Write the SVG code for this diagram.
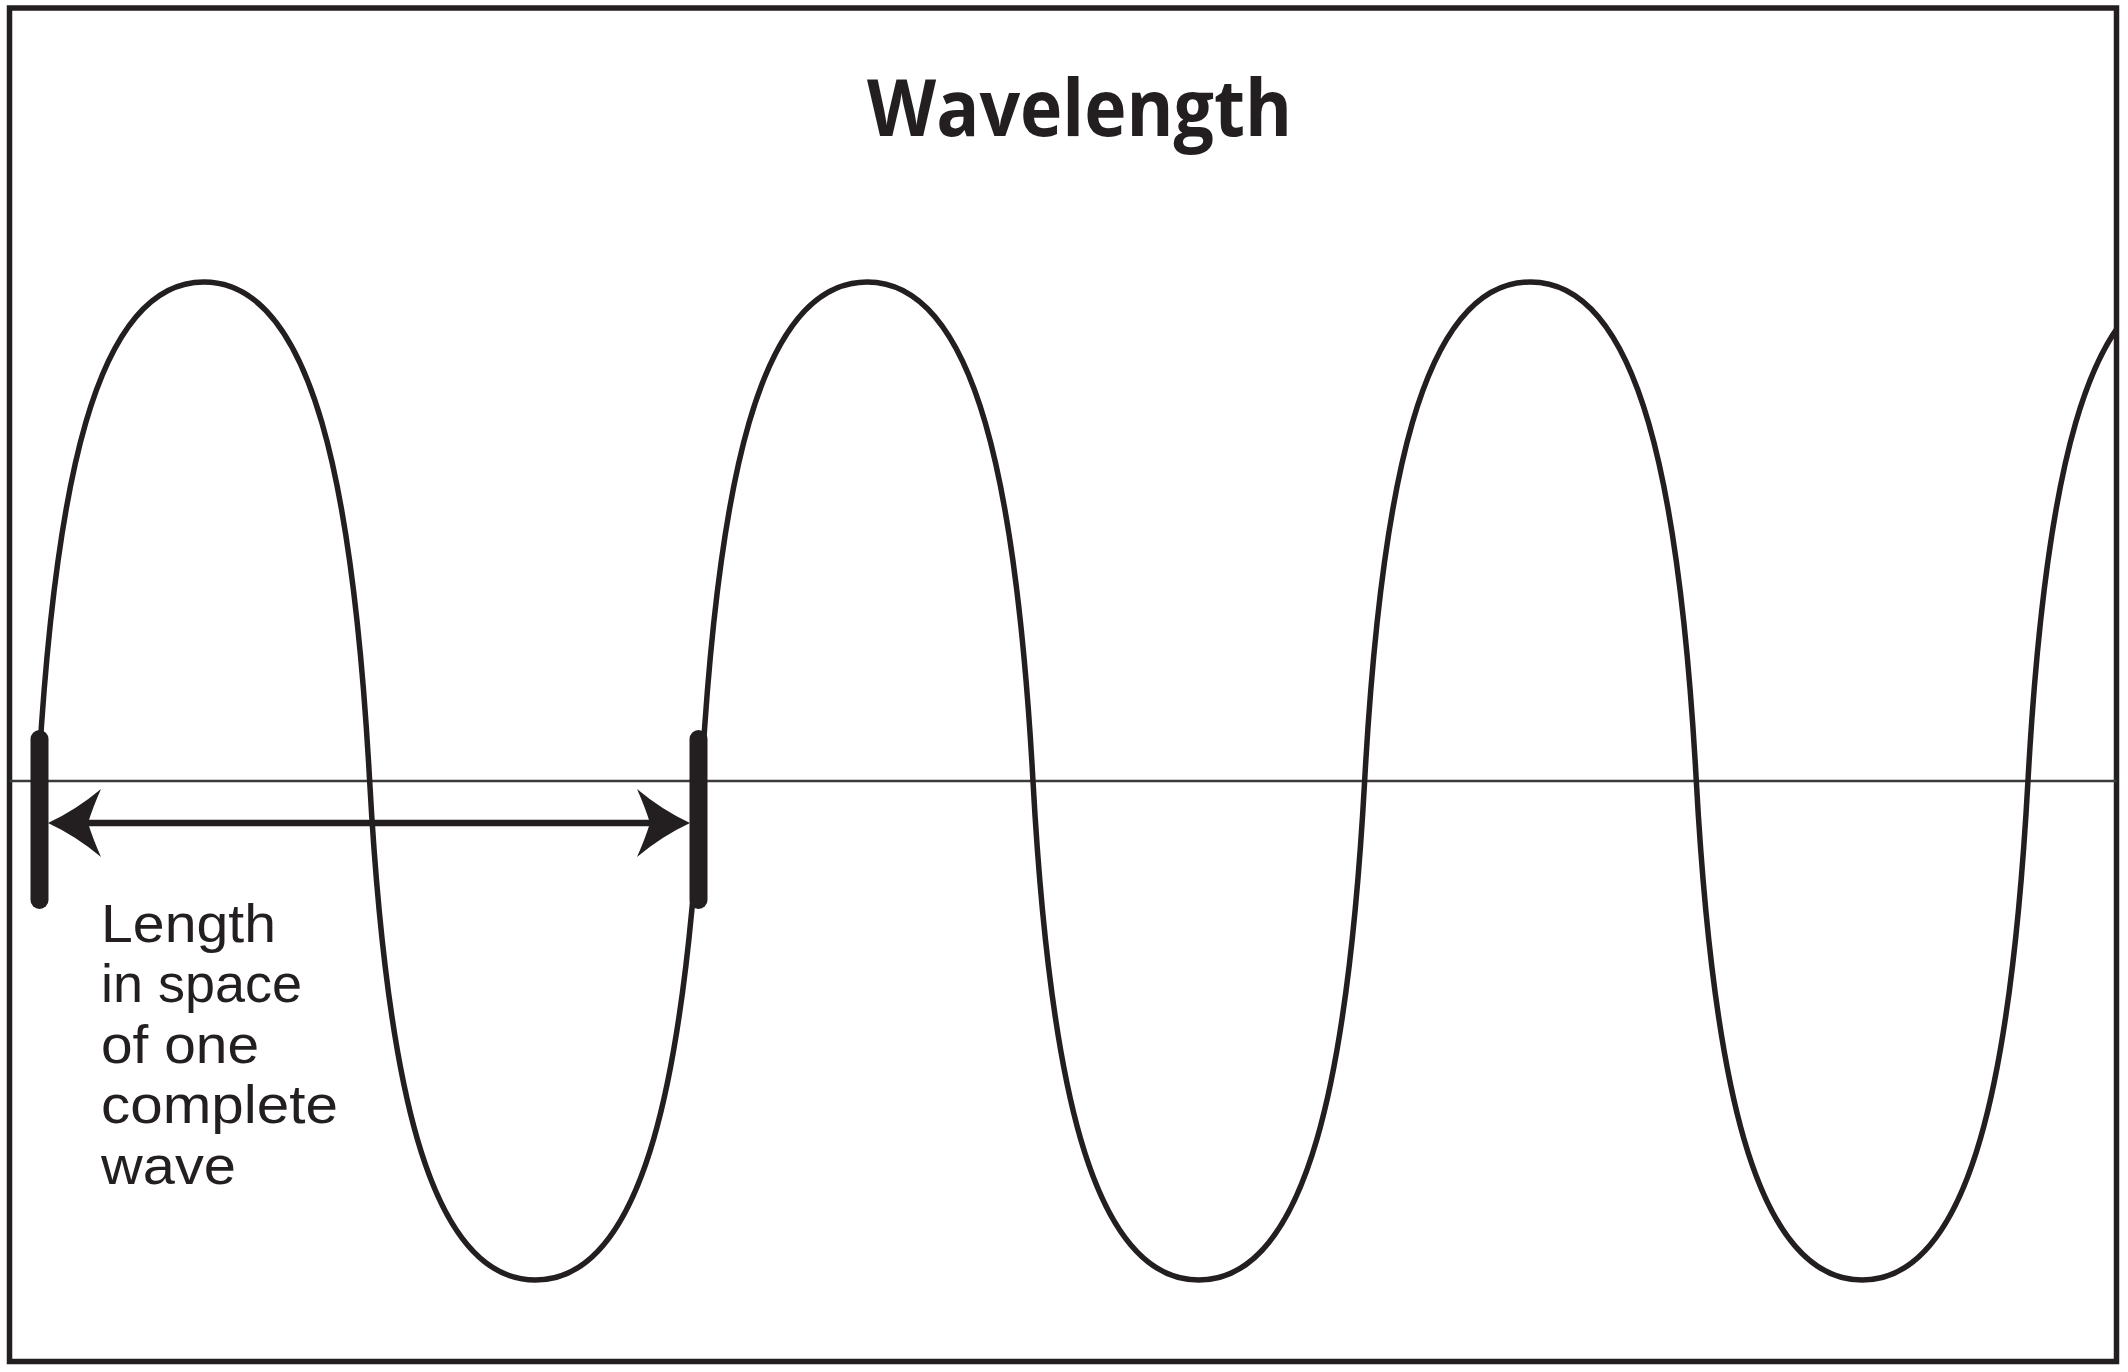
<svg xmlns="http://www.w3.org/2000/svg" width="2128" height="1372" viewBox="0 0 2128 1372">
  <style>
    .ink { fill: none; stroke: #231f20; }
    .frame { stroke-width: 5.5; }
    .axis { stroke: #3a3a3a; stroke-width: 2.5; }
    .wave { stroke-width: 5.5; stroke-linejoin: round; }
    .tick { stroke-width: 18; stroke-linecap: round; }
    .shaft { stroke-width: 6.5; }
    .head { fill: #231f20; stroke: none; }
    .title { font-family: "Open Sans", "Liberation Sans", sans-serif; font-weight: 700; font-size: 78px; fill: #231f20; }
    .label { font-family: "Liberation Sans", "Open Sans", sans-serif; font-weight: 400; font-size: 53px; fill: #231f20; }
  </style>
  <defs>
    <clipPath id="inside">
      <rect x="9.5" y="8" width="2107" height="1353.5"/>
    </clipPath>
  </defs>

  <rect x="0" y="0" width="2128" height="1372" fill="#ffffff"/>

  <g id="frame">
    <rect class="ink frame" x="9.5" y="8" width="2107" height="1353.5"/>
  </g>

  <g id="title">
    <text class="title" x="867" y="136" textLength="425" lengthAdjust="spacingAndGlyphs">Wavelength</text>
  </g>

  <g id="axis">
    <line class="ink axis" x1="9.5" y1="781" x2="2116.7" y2="781"/>
  </g>

  <g id="wave" clip-path="url(#inside)">
    <path class="ink wave" d="M38,781 c16,-290 56,-499 165.83,-499 s149.83,209 165.83,499 s56,499 165.83,499 s149.83,-209 165.83,-499 s56,-499 165.83,-499 s149.83,209 165.83,499 s56,499 165.83,499 s149.83,-209 165.83,-499 s56,-499 165.83,-499 s149.83,209 165.83,499 s56,499 165.83,499 s149.83,-209 165.83,-499 s56,-499 165.83,-499"/>
  </g>

  <g id="connectors">
    <line class="ink shaft" x1="86" y1="823" x2="652" y2="823"/>
    <path class="head" d="M48,823 Q76,810 101,789 Q93,807 88,823 Q93,839 101,857 Q76,836 48,823 Z"/>
    <path class="head" d="M690,823 Q662,810 637,789 Q645,807 650,823 Q645,839 637,857 Q662,836 690,823 Z"/>
  </g>

  <g id="tick-start">
    <line class="ink tick" x1="39.5" y1="739" x2="39.5" y2="900"/>
  </g>
  <g id="tick-end">
    <line class="ink tick" x1="698.5" y1="739" x2="698.5" y2="900"/>
  </g>

  <g id="label">
    <text class="label" x="101" y="942" textLength="175" lengthAdjust="spacingAndGlyphs">Length</text>
    <text class="label" x="101" y="1002" textLength="201" lengthAdjust="spacingAndGlyphs">in space</text>
    <text class="label" x="101" y="1063" textLength="158" lengthAdjust="spacingAndGlyphs">of one</text>
    <text class="label" x="101" y="1123" textLength="237" lengthAdjust="spacingAndGlyphs">complete</text>
    <text class="label" x="101" y="1184" textLength="135" lengthAdjust="spacingAndGlyphs">wave</text>
  </g>
</svg>
